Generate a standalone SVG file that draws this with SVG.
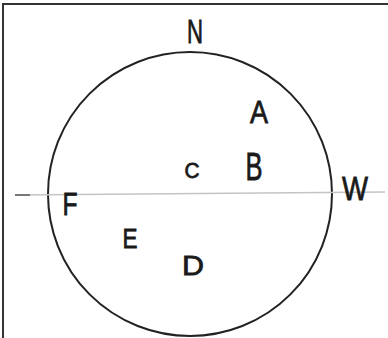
<svg xmlns="http://www.w3.org/2000/svg" width="388" height="338" viewBox="0 0 388 338">
<style>
.lbl{font-family:"Liberation Sans",Arial,sans-serif;fill:#1a1a1a;stroke:#1a1a1a;stroke-width:0.8;text-anchor:middle;}
</style>
<rect x="0" y="0" width="388" height="338" fill="#fff"/>
<g id="frame" fill="none" stroke="#333" stroke-width="2">
<path d="M3,338 L3,4 L388,4"/>
</g>
<g id="circle"><circle cx="190" cy="194" r="142" fill="none" stroke="#222" stroke-width="2"/></g>
<g id="connectors">
<path d="M15,195 L385,192" fill="none" stroke="#c4c4c4" stroke-width="1.5"/>
<path d="M15,195 L30,195" fill="none" stroke="#777" stroke-width="2"/>
</g>
<g id="labels">
<text id="N" class="lbl" x="195" y="43" font-size="34" textLength="16" lengthAdjust="spacingAndGlyphs">N</text>
<text id="A" class="lbl" x="259" y="123" font-size="32" textLength="18" lengthAdjust="spacingAndGlyphs">A</text>
<text id="B" class="lbl" x="254" y="180" font-size="38" textLength="17" lengthAdjust="spacingAndGlyphs">B</text>
<text id="C" class="lbl" x="192" y="178" font-size="22" textLength="15" lengthAdjust="spacingAndGlyphs">C</text>
<text id="W" class="lbl" x="355" y="200" font-size="34" textLength="26" lengthAdjust="spacingAndGlyphs">W</text>
<text id="F" class="lbl" x="70" y="215" font-size="32" textLength="15" lengthAdjust="spacingAndGlyphs">F</text>
<text id="E" class="lbl" x="130" y="248" font-size="28" textLength="15" lengthAdjust="spacingAndGlyphs">E</text>
<text id="D" class="lbl" x="193" y="275" font-size="28" textLength="22" lengthAdjust="spacingAndGlyphs">D</text>
</g>
</svg>
